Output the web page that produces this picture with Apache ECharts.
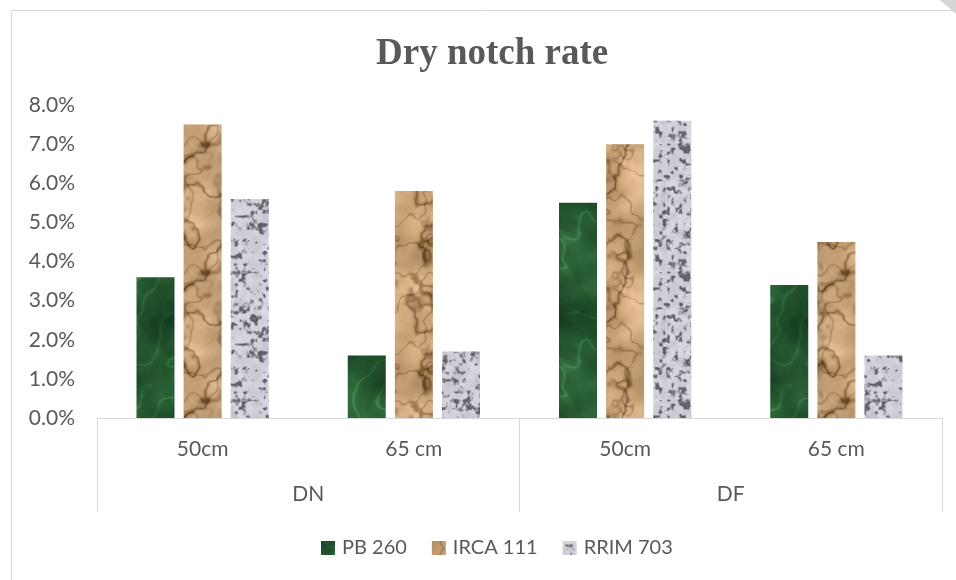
<!DOCTYPE html>
<html>
<head>
<meta charset="utf-8">
<script src="https://cdn.jsdelivr.net/npm/echarts@6/dist/echarts.min.js"></script>
<style>html,body{margin:0;padding:0;background:#fff;}#c{width:956px;height:580px;}</style>
</head>
<body>
<div id="c"></div>
<script>
const subCategories = ['50cm', '65 cm', '50cm', '65 cm'];
const groups = ['DN', 'DF'];
const seriesNames = ['PB 260', 'IRCA 111', 'RRIM 703'];
const pb260 = [3.6, 1.6, 5.5, 3.4];
const irca111 = [7.5, 5.8, 7.0, 4.5];
const rrim703 = [5.6, 1.7, 7.6, 1.6];
const yTicks = [0, 1, 2, 3, 4, 5, 6, 7, 8];

// ---- decorative texture tiles (styling only, not data) ----
function hash(x, y, s) { const v = Math.sin(x * 12.9898 + y * 78.233 + s * 37.719) * 43758.5453; return v - Math.floor(v); }
function vnoise(u, v, g, s) {
  const x = u * g, y = v * g;
  const x0 = Math.floor(x), y0 = Math.floor(y);
  const fx = x - x0, fy = y - y0;
  const sx = fx * fx * (3 - 2 * fx), sy = fy * fy * (3 - 2 * fy);
  const m = (a) => ((a % g) + g) % g;
  const a = hash(m(x0), m(y0), s), b = hash(m(x0 + 1), m(y0), s);
  const c = hash(m(x0), m(y0 + 1), s), d = hash(m(x0 + 1), m(y0 + 1), s);
  return (a + (b - a) * sx) * (1 - sy) + (c + (d - c) * sx) * sy;
}
function fbm(u, v, g, s, oct) {
  let t = 0, amp = 0.5, tot = 0;
  for (let o = 0; o < oct; o++) { t += amp * vnoise(u, v, g, s + o); tot += amp; amp *= 0.5; g *= 2; }
  return t / tot;
}
function tile(kind) {
  const W = 128, H = 128;
  const c = document.createElement('canvas');
  c.width = W; c.height = H;
  const ctx = c.getContext('2d');
  const img = ctx.createImageData(W, H);
  for (let y = 0; y < H; y++) {
    for (let x = 0; x < W; x++) {
      const u = x / W, v = y / H;
      let r, g, b;
      if (kind === 0) {
        const f = fbm(u, v, 4, 1, 5);
        const w = fbm(u, v, 3, 9, 3);
        const vein = Math.pow(1 - Math.abs(Math.sin(Math.PI * 2 * (u + v) + 9 * w)), 6);
        const t = Math.max(0, Math.min(1, 0.05 + 0.7 * f + 0.35 * vein * f * 1.6));
        r = 10 + 60 * t; g = 45 + 95 * t; b = 22 + 58 * t;
      } else if (kind === 1) {
        const f = fbm(u, v, 4, 21, 5);
        const f2 = fbm(u, v, 3, 31, 4);
        const f3 = fbm(u, v, 5, 61, 3);
        const crease = Math.pow(1 - Math.min(1, Math.abs(f2 - 0.5) * 16), 2);
        const crease2 = Math.pow(1 - Math.min(1, Math.abs(f3 - 0.5) * 18), 2);
        const t = 0.78 + 0.6 * (f - 0.5) - 0.5 * crease - 0.3 * crease2;
        const tt = Math.max(0, Math.min(1, t));
        r = 100 + 140 * tt; g = 65 + 135 * tt; b = 30 + 125 * tt;
      } else {
        const f = fbm(u, v, 32, 41, 2);
        const f2 = fbm(u, v, 16, 51, 2);
        let t = 0.8 + 0.16 * f2;
        if (f < 0.47) t -= (0.47 - f) * 2.4;
        t = Math.max(0.3, Math.min(1, t));
        r = 40 + 190 * t; g = 40 + 190 * t; b = 48 + 192 * t;
      }
      const i = (y * W + x) * 4;
      img.data[i] = r; img.data[i + 1] = g; img.data[i + 2] = b; img.data[i + 3] = 255;
    }
  }
  ctx.putImageData(img, 0, 0);
  return { image: c, repeat: 'repeat' };
}
const textures = [tile(0), tile(1), tile(2)];

const chart = echarts.init(document.getElementById('c'), null, { renderer: 'canvas' });
const dataSets = [pb260, irca111, rrim703];
const fontFam = 'Lato, "Noto Sans", sans-serif';
const txt = '#595959';

chart.setOption({
  backgroundColor: '#fff',
  animation: false,
  title: {
    text: 'Dry notch rate',
    left: 371,
    top: 31,
    textStyle: { fontFamily: '"Liberation Serif", "DejaVu Serif", serif', fontWeight: 'bold', fontSize: 37, color: txt }
  },
  legend: {
    bottom: 17,
    left: 316,
    itemWidth: 14,
    itemHeight: 14,
    itemGap: 25,
    icon: 'rect',
    textStyle: { fontFamily: fontFam, fontSize: 20, color: txt, padding: [0, 0, 0, 2] },
    data: seriesNames
  },
  grid: { left: 97, right: 14, top: 105, bottom: 162 },
  xAxis: [
    {
      type: 'category',
      data: subCategories,
      axisLine: { show: true, lineStyle: { color: '#d9d9d9', width: 1 } },
      axisTick: { show: false },
      axisLabel: { margin: 21, fontFamily: fontFam, fontSize: 21, color: txt }
    },
    {
      type: 'category',
      data: groups,
      position: 'bottom',
      axisLine: { show: false },
      axisTick: { show: true, length: 94, alignWithLabel: false, lineStyle: { color: '#d9d9d9', width: 1 } },
      axisLabel: { margin: 66, fontFamily: fontFam, fontSize: 21, color: txt }
    }
  ],
  yAxis: {
    type: 'value',
    min: yTicks[0],
    max: yTicks[yTicks.length - 1],
    interval: 1,
    axisLine: { show: false },
    axisTick: { show: false },
    splitLine: { show: false },
    axisLabel: {
      margin: 22,
      fontFamily: fontFam, fontSize: 21, color: txt,
      formatter: v => v.toFixed(1) + '%'
    }
  },
  series: dataSets.map((d, i) => ({
    name: seriesNames[i],
    type: 'bar',
    xAxisIndex: 0,
    barWidth: 38,
    barGap: '24%',
    data: d,
    itemStyle: { color: textures[i] },
    emphasis: { disabled: true }
  })),
  graphic: [
    { type: 'rect', shape: { x: 11.5, y: 10.5, width: 960, height: 600 }, style: { fill: 'none', stroke: '#d9d9d9', lineWidth: 1 }, silent: true },
    { type: 'polygon', shape: { points: [[940, 0], [956, 0], [956, 14]] }, style: { fill: '#d6d6d6' }, silent: true }
  ]
});
</script>
</body>
</html>
